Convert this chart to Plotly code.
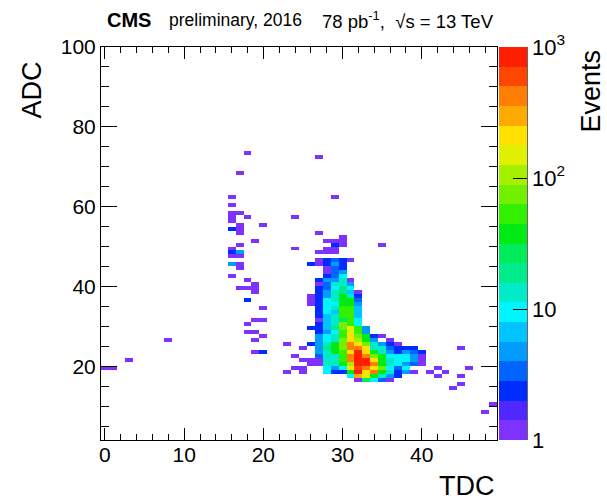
import numpy as np
import plotly.graph_objects as go

# ---------------- data: 2D histogram bin contents (ADC row -> TDC bins, events) ----------------
row_adc = [73, 72, 68, 62, 60, 58, 57, 56, 55, 54, 53, 52, 51, 50, 49, 48, 47, 46, 45, 44,
           43, 42, 41, 40, 39, 38, 37, 36, 35, 34, 33, 32, 31, 30, 29, 28, 27, 26, 25, 24,
           23, 22, 21, 20, 19, 18, 17, 16, 15, 14, 10, 8]

row_tdc = [
    [18], [27], [17], [16, 29], [16], [16, 17], [16, 18, 24], [16], [17, 20], [16, 17],
    [17, 27], [30], [19, 28, 29, 30], [17, 29, 30, 35], [16, 24, 28, 29],
    [16, 17, 27, 28, 29], [16, 17], [27, 28, 29, 30, 31],
    [16, 17, 26, 27, 28, 29, 30], [17, 28, 29, 30],
    [28, 29, 30], [16, 28, 29, 30], [18, 27, 28, 29, 30, 31], [19, 27, 28, 29, 30, 31],
    [17, 18, 19, 27, 28, 29, 30, 31], [19, 27, 28, 29, 30, 31, 32],
    [26, 27, 28, 29, 30, 31, 32], [18, 26, 27, 28, 29, 30, 31, 32],
    [26, 27, 28, 29, 30, 31, 32], [20, 27, 28, 29, 30, 31, 32],
    [27, 28, 29, 30, 31, 32], [27, 28, 29, 30, 31, 32],
    [19, 20, 27, 28, 29, 30, 31, 32], [18, 27, 28, 29, 30, 31, 32],
    [26, 27, 28, 29, 30, 31, 32, 33], [18, 19, 27, 28, 29, 30, 31, 32, 33],
    [20, 27, 28, 29, 30, 31, 32, 33, 34, 35], [8, 19, 27, 28, 29, 30, 31, 32, 33, 34, 36],
    [23, 26, 27, 28, 29, 30, 31, 32, 33, 34, 35, 36, 37],
    [25, 27, 28, 29, 30, 31, 32, 33, 34, 35, 36, 37, 38, 39, 45],
    [19, 20, 27, 28, 29, 30, 31, 32, 33, 34, 35, 36, 37, 38, 39, 40],
    [24, 27, 28, 29, 30, 31, 32, 33, 34, 35, 36, 37, 38, 39, 40],
    [3, 25, 26, 27, 28, 29, 30, 31, 32, 33, 34, 35, 36, 37, 38, 39, 40],
    [26, 27, 28, 29, 30, 31, 32, 33, 34, 35, 36, 37, 38, 39, 40],
    [0, 1, 24, 25, 28, 29, 30, 31, 32, 33, 34, 35, 36, 37, 38, 42, 46],
    [23, 25, 28, 29, 30, 31, 32, 33, 34, 35, 36, 37, 38, 39, 41, 43],
    [31, 32, 33, 34, 35, 36, 37, 42, 45],
    [32, 33, 34, 35, 36], [45], [44], [49], [48],
]

row_events = [
    [1], [1], [1], [1, 1], [1], [1, 1], [1, 1, 1], [1], [1, 1], [2, 1],
    [1, 1], [1], [1, 1, 1, 1], [1, 2, 1, 1], [1, 1, 1, 1],
    [2, 5, 1, 1, 1], [1, 1], [1, 2, 3, 2, 1],
    [5, 1, 2, 1, 2, 5, 2], [1, 1, 3, 2],
    [1, 3, 5], [1, 2, 3, 8], [1, 2, 5, 5, 12, 1], [1, 1, 3, 13, 13, 5],
    [1, 1, 1, 2, 3, 9, 18, 9], [1, 2, 5, 13, 20, 7, 1],
    [1, 2, 5, 13, 35, 13, 2], [2, 1, 2, 9, 14, 40, 35, 3],
    [1, 2, 9, 10, 40, 40, 5], [1, 2, 9, 13, 45, 45, 6],
    [2, 8, 7, 50, 50, 6], [2, 7, 13, 55, 60, 6],
    [1, 1, 1, 6, 14, 28, 50, 9], [1, 2, 6, 14, 75, 50, 9],
    [2, 2, 7, 20, 80, 160, 45, 5], [1, 1, 2, 5, 10, 45, 170, 45, 5],
    [1, 5, 9, 14, 45, 180, 80, 38, 2, 1], [1, 1, 5, 9, 14, 75, 190, 90, 40, 5, 1],
    [1, 2, 5, 14, 40, 80, 400, 220, 75, 13, 5, 2, 1],
    [1, 5, 20, 40, 80, 400, 400, 220, 13, 13, 3, 2, 2, 2, 1],
    [1, 2, 5, 13, 40, 45, 220, 800, 220, 40, 13, 5, 2, 5, 3, 2],
    [1, 3, 13, 13, 50, 400, 850, 400, 80, 40, 9, 9, 9, 5, 1],
    [1, 1, 1, 1, 13, 13, 45, 400, 850, 800, 220, 40, 13, 9, 9, 5, 1],
    [1, 1, 13, 13, 40, 90, 800, 750, 400, 40, 13, 8, 5, 3, 1],
    [1, 1, 1, 1, 9, 5, 9, 200, 600, 400, 220, 80, 9, 3, 8, 1, 1],
    [1, 1, 9, 2, 2, 40, 750, 200, 400, 40, 13, 2, 5, 1, 1, 1],
    [9, 300, 150, 40, 13, 5, 2, 1, 1],
    [1, 30, 9, 3, 1], [1], [1], [1], [1],
]

tdc_centers = list(range(50))          # TDC bins centred on integers
adc_edges = list(range(101))           # ADC bins [a, a+1)
cbar_major = [1, 10, 100, 1000]
cbar_major_text = ["1", "10", "10<sup>2</sup>", "10<sup>3</sup>"]
cbar_minor = [m * 10 ** d for d in range(3) for m in range(2, 10)]

# ---------------- build histogram grid ----------------
grid = np.full((len(adc_edges) - 1, len(tdc_centers)), np.nan)
for a, ts, es in zip(row_adc, row_tdc, row_events):
    for t, e in zip(ts, es):
        grid[a, t] = np.log10(e)

# ROOT-like 20 contour palette (violet -> red)
band_colors = ["rgb(125,50,255)", "rgb(80,40,255)", "rgb(0,45,255)", "rgb(0,100,255)",
               "rgb(0,155,255)", "rgb(0,195,255)", "rgb(0,245,255)", "rgb(0,235,200)",
               "rgb(0,235,140)", "rgb(0,235,90)", "rgb(0,235,20)", "rgb(50,240,0)",
               "rgb(115,240,0)", "rgb(165,240,0)", "rgb(225,240,0)", "rgb(255,225,0)",
               "rgb(255,170,0)", "rgb(255,125,0)", "rgb(255,70,0)", "rgb(255,30,0)"]
nb = len(band_colors)
colorscale = []
for k, c in enumerate(band_colors):
    colorscale.append([k / nb, c])
    colorscale.append([(k + 1) / nb, c])

ZMIN, ZMAX = 0.0, 3.0
FONT = "Liberation Sans, Arial, Helvetica, sans-serif"

fig = go.Figure()
fig.add_trace(go.Heatmap(
    x=tdc_centers, y=adc_edges, z=grid,
    zmin=ZMIN, zmax=ZMAX, colorscale=colorscale, zsmooth=False,
    hoverinfo="skip",
    colorbar=dict(
        x=1.005, xanchor="left", y=0.5, yanchor="middle",
        len=1, lenmode="fraction", thickness=28, thicknessmode="pixels",
        xpad=0, ypad=0, outlinewidth=0,
        tickmode="array", tickvals=[np.log10(v) for v in cbar_major],
        ticktext=cbar_major_text,
        ticks="inside", ticklen=14, tickwidth=1, tickcolor="black",
        tickfont=dict(family=FONT, size=22, color="black"),
    ),
))

W, H = 607, 500
L, R, T, B = 101, 110, 47, 60
pw, ph = W - L - R, H - T - B


def px(xp):
    return (xp - L) / pw


def py(yp):
    return (H - B - yp) / ph


fig.update_layout(
    width=W, height=H,
    margin=dict(l=L, r=R, t=T, b=B, autoexpand=False),
    paper_bgcolor="white", plot_bgcolor="white",
    font=dict(family=FONT, color="black"),
    xaxis=dict(
        range=[-0.5, 49.5], tickmode="linear", tick0=0, dtick=10,
        ticks="inside", ticklen=12, tickwidth=1, tickcolor="black",
        minor=dict(tickmode="linear", tick0=0, dtick=2, ticks="inside", ticklen=6,
                   tickwidth=1, tickcolor="black", showgrid=False),
        showline=True, linecolor="black", linewidth=1, mirror="allticks",
        showgrid=False, zeroline=False, ticklabelstandoff=-4,
        tickfont=dict(family=FONT, size=21, color="black"),
    ),
    yaxis=dict(
        range=[1.5, 100], tickmode="linear", tick0=0, dtick=20,
        ticks="inside", ticklen=16, tickwidth=1, tickcolor="black",
        minor=dict(tickmode="linear", tick0=0, dtick=5, ticks="inside", ticklen=8,
                   tickwidth=1, tickcolor="black", showgrid=False),
        showline=True, linecolor="black", linewidth=1, mirror="allticks",
        showgrid=False, zeroline=False,
        tickfont=dict(family=FONT, size=21, color="black"),
    ),
)

# right edge (axis line) of the palette and its minor ticks
fig.add_shape(type="line", xref="paper", yref="paper",
              x0=px(527), x1=px(527), y0=0, y1=1,
              line=dict(color="black", width=1.2))
for v in cbar_minor:
    yv = (np.log10(v) - ZMIN) / (ZMAX - ZMIN)
    fig.add_shape(type="line", xref="paper", yref="paper",
                  x0=px(527), x1=px(519), y0=yv, y1=yv,
                  line=dict(color="black", width=1))

ann = [
    dict(text="<b>CMS</b>", x=px(105), y=py(20), xanchor="left", yanchor="middle", size=20),
    dict(text="preliminary, 2016", x=px(167), y=py(20), xanchor="left", yanchor="middle", size=17.5),
    dict(text="78 pb<sup>-1</sup>,  √s = 13 TeV", x=px(496), y=py(20), xanchor="right",
         yanchor="middle", size=18.5),
    dict(text="TDC", x=1.0, y=py(486), xanchor="right", yanchor="middle", size=27),
]
for a in ann:
    fig.add_annotation(text=a["text"], x=a["x"], y=a["y"], xref="paper", yref="paper",
                       xanchor=a["xanchor"], yanchor=a["yanchor"], showarrow=False,
                       font=dict(family=FONT, size=a["size"], color="black"))
fig.add_annotation(text="ADC", x=px(31), y=py(60), xref="paper", yref="paper",
                   xanchor="center", yanchor="top", textangle=-90, showarrow=False,
                   font=dict(family=FONT, size=27, color="black"))
fig.add_annotation(text="Events", x=px(591), y=py(48), xref="paper", yref="paper",
                   xanchor="center", yanchor="top", textangle=-90, showarrow=False,
                   font=dict(family=FONT, size=27, color="black"))

fig.write_html("out.html")
